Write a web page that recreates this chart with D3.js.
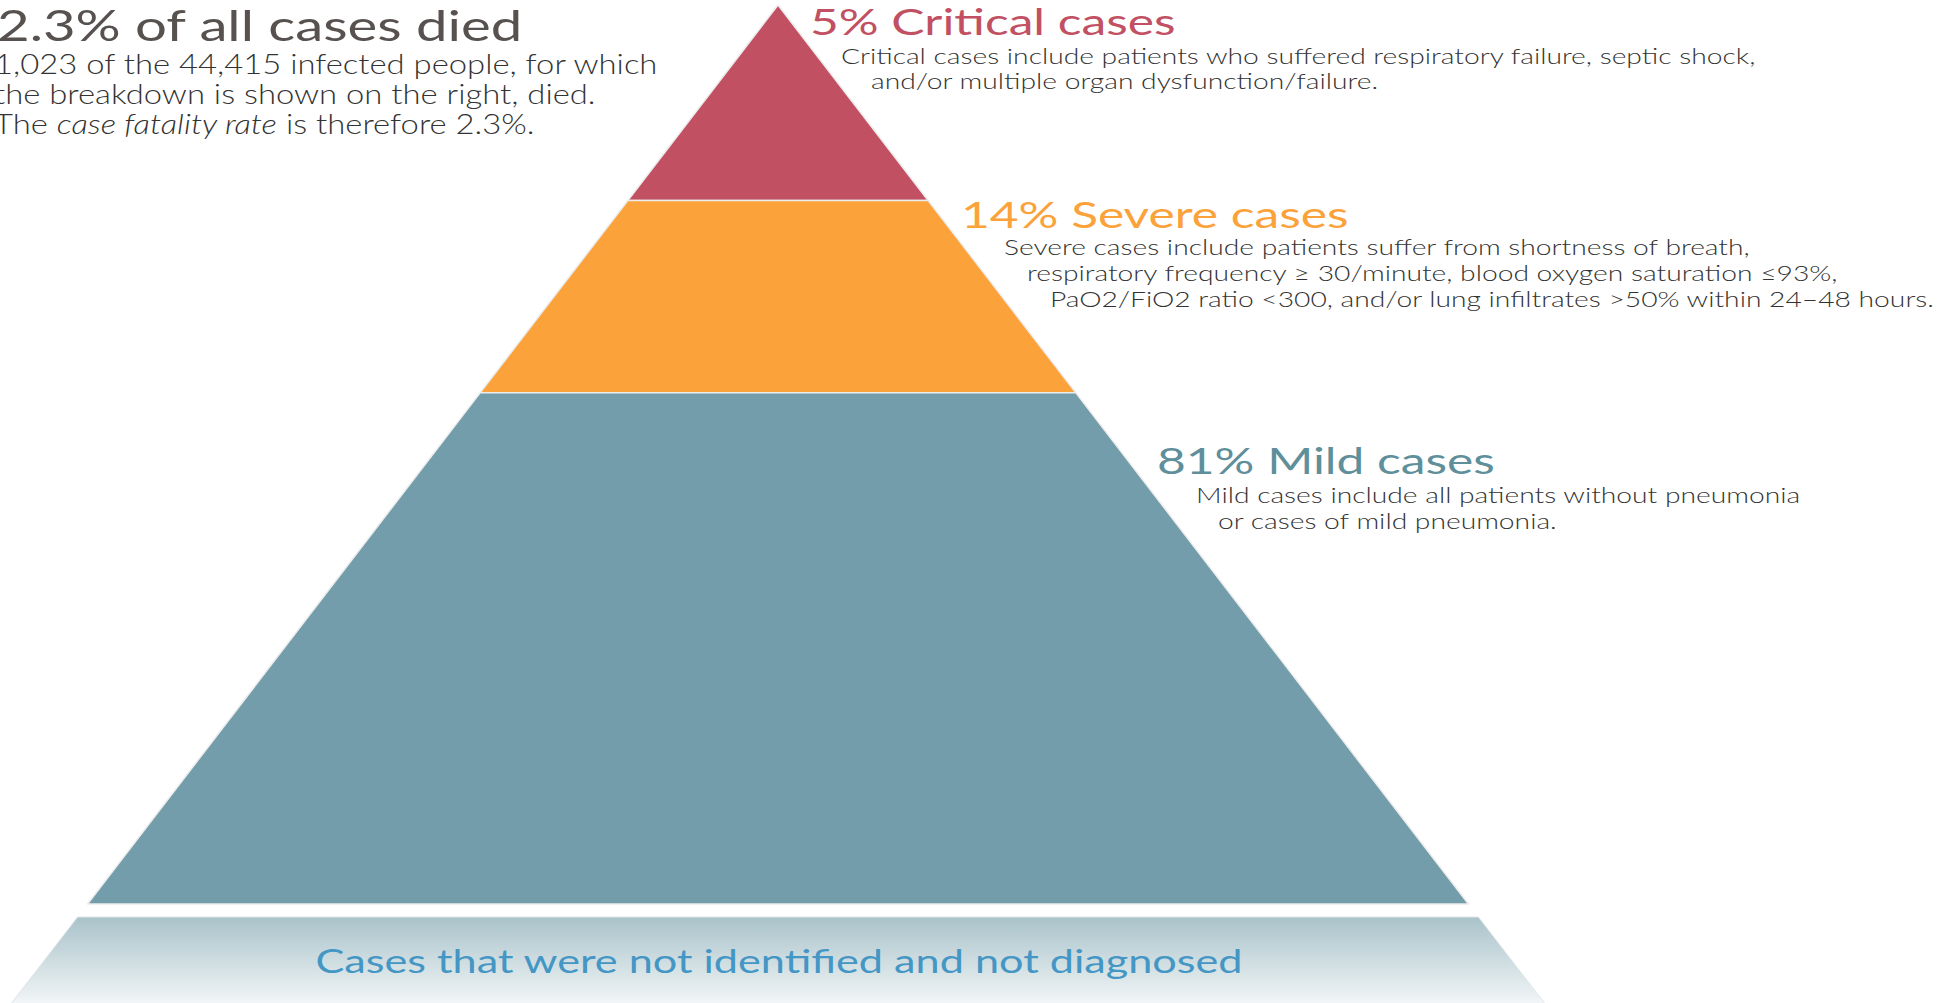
<!DOCTYPE html>
<html>
<head>
<meta charset="utf-8">
<script src="https://cdn.jsdelivr.net/npm/d3@7"></script>
<style>
  html, body { margin: 0; padding: 0; background: #fff; overflow: hidden; }
  svg { display: block; font-family: Lato, "Open Sans", sans-serif; }
</style>
</head>
<body>
<svg id="chart" width="1949" height="1003"></svg>
<script>
// ---- Data ----
const categories = ["Critical", "Severe", "Mild"];
const shares = [4.7, 13.8, 80.9];            // % of confirmed cases
const shareLabels = ["5%", "14%", "81%"];
const titles = ["5% Critical cases", "14% Severe cases", "81% Mild cases"];
const colors = ["#c25063", "#fca23b", "#739daa"];
const titleColors = ["#c25063", "#fca23b", "#5f8f9b"];
const descriptions = [
  ["Critical cases include patients who suffered respiratory failure, septic shock,",
   "and/or multiple organ dysfunction/failure."],
  ["Severe cases include patients suffer from shortness of breath,",
   "respiratory frequency \u2265 30/minute, blood oxygen saturation \u226493%,",
   "PaO2/FiO2 ratio <300, and/or lung infiltrates >50% within 24\u201348 hours."],
  ["Mild cases include all patients without pneumonia",
   "or cases of mild pneumonia."]
];
const leftTitle = "2.3% of all cases died";
const leftLines = [
  [{t: "1,023 of the 44,415 infected people, for which"}],
  [{t: "the breakdown is shown on the right, died."}],
  [{t: "The "}, {t: "case fatality rate", i: true}, {t: " is therefore 2.3%."}]
];
const hiddenLabel = "Cases that were not identified and not diagnosed";

// ---- Layout ----
const svg = d3.select("#chart");
const apexX = 778, apexY = 5, baseY = 904;
const halfSlope = 0.768;            // half-width per px of depth

// area-proportional pyramid: depth ~ sqrt(cumulative share)
const yScale = d3.scaleSqrt().domain([0, 100]).range([apexY, baseY]);
const halfW = d3.scaleLinear().domain([apexY, baseY]).range([0, (baseY - apexY) * halfSlope]);

const cum = [];
let acc = 0;
shares.forEach((s, i) => { cum.push([acc, acc + s]); acc += s; });
yScale.domain([0, acc]);

const defs = svg.append("defs");
const grad = defs.append("linearGradient").attr("id", "fade")
  .attr("x1", 0).attr("y1", 0).attr("x2", 0).attr("y2", 1);
grad.append("stop").attr("offset", "0%").attr("stop-color", "#a9c3ca");
grad.append("stop").attr("offset", "100%").attr("stop-color", "#f7f9fa");

// hidden-cases band (continuation of pyramid below base)
const bandTop = 917, bandBottom = 1010;
const bandHalf = y => (y - apexY) * halfSlope;
svg.append("path")
  .attr("d", d3.line()([
    [apexX - bandHalf(bandTop), bandTop], [apexX + bandHalf(bandTop), bandTop],
    [apexX + bandHalf(bandBottom), bandBottom], [apexX - bandHalf(bandBottom), bandBottom]
  ]) + "Z")
  .attr("fill", "url(#fade)")
  .attr("stroke", "#e2e6e8").attr("stroke-width", 1);

// pyramid segments
svg.selectAll("path.seg").data(cum).join("path")
  .attr("class", "seg")
  .attr("d", (d, i) => {
    const y0 = yScale(d[0]), y1 = yScale(d[1]);
    const w0 = halfW(y0), w1 = halfW(y1);
    return d3.line()([[apexX - w0, y0], [apexX + w0, y0], [apexX + w1, y1], [apexX - w1, y1]]) + "Z";
  })
  .attr("fill", (d, i) => colors[i])
  .attr("stroke", "#ececec").attr("stroke-width", 1.5).attr("stroke-linejoin", "round");

// helper: horizontally stretched text
function addText(x, y, sx, size, weight, fill, anchor) {
  return svg.append("text")
    .attr("transform", `translate(${x},${y}) scale(${sx},1)`)
    .attr("font-size", size).attr("font-weight", weight)
    .attr("text-anchor", anchor || "start").attr("fill", fill);
}

// ---- Labels ----
const labelPos = [
  {tx: 810, ty: 35, dx: [841, 871], dy: [64, 89]},
  {tx: 961, ty: 228, dx: [1004, 1027, 1050], dy: [255, 281, 307]},
  {tx: 1157, ty: 474, dx: [1196, 1218], dy: [503, 529]}
];
labelPos.forEach((p, i) => {
  addText(p.tx, p.ty, 1.38, 36, 400, titleColors[i]).text(titles[i]);
  descriptions[i].forEach((line, j) => {
    addText(p.dx[j], p.dy[j], 1.255, 22.5, 300, "#333").text(line);
  });
});

// left block
addText(-3, 41, 1.34, 42, 400, "#57524f").text(leftTitle);
const leftY = [74, 104, 134];
leftLines.forEach((parts, j) => {
  const t = addText(-6, leftY[j], 1.215, 27, 300, "#333");
  parts.forEach(p => t.append("tspan").attr("font-style", p.i ? "italic" : null).text(p.t));
});

// hidden cases label
addText(apexX + 1, 973, 1.31, 33, 400, "#4496c4", "middle").text(hiddenLabel);
</script>
</body>
</html>
